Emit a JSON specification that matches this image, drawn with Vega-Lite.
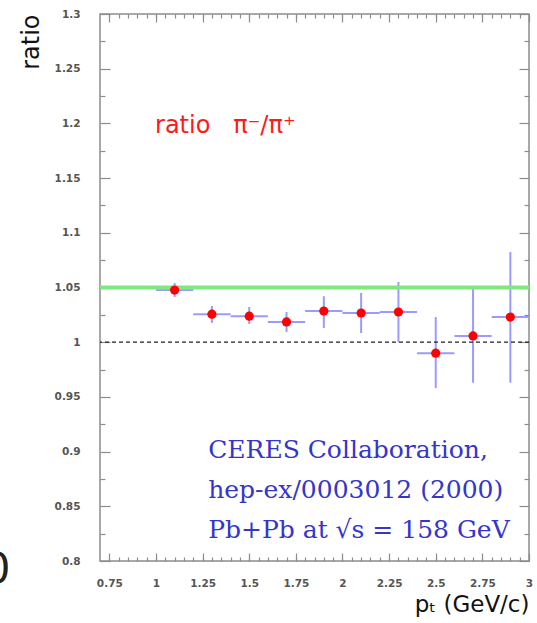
{
  "$schema": "https://vega.github.io/schema/vega-lite/v6.json",
  "width": 429,
  "height": 547,
  "autosize": "none",
  "padding": {"left": 100, "top": 14, "right": 8, "bottom": 62},
  "background": "white",
  "config": {
    "view": {"stroke": "#8c8c8c", "strokeWidth": 1.5},
    "axis": {
      "domain": false,
      "grid": false,
      "tickColor": "#8c8c8c",
      "tickWidth": 1.2,
      "labelColor": "#555555",
      "labelFont": "DejaVu Sans",
      "labelFontSize": 10.5,
      "labelFontWeight": "bold",
      "titleFont": "DejaVu Sans",
      "titleFontWeight": "normal",
      "titleColor": "#111111"
    }
  },
  "datasets": {
    "pts": [
      {"x": 1.1, "y": 1.0477, "xlo": 1.0, "xhi": 1.2, "ylo": 1.0413, "yhi": 1.0541},
      {"x": 1.3, "y": 1.0256, "xlo": 1.2, "xhi": 1.4, "ylo": 1.0176, "yhi": 1.0331},
      {"x": 1.5, "y": 1.0238, "xlo": 1.4, "xhi": 1.6, "ylo": 1.0166, "yhi": 1.0322},
      {"x": 1.7, "y": 1.0185, "xlo": 1.6, "xhi": 1.8, "ylo": 1.0093, "yhi": 1.0276},
      {"x": 1.9, "y": 1.0285, "xlo": 1.8, "xhi": 2.0, "ylo": 1.013, "yhi": 1.042},
      {"x": 2.1, "y": 1.0267, "xlo": 2.0, "xhi": 2.2, "ylo": 1.0084, "yhi": 1.045},
      {"x": 2.3, "y": 1.0276, "xlo": 2.2, "xhi": 2.4, "ylo": 1.0, "yhi": 1.055},
      {"x": 2.5, "y": 0.99, "xlo": 2.4, "xhi": 2.6, "ylo": 0.958, "yhi": 1.023},
      {"x": 2.7, "y": 1.0057, "xlo": 2.6, "xhi": 2.8, "ylo": 0.963, "yhi": 1.0495},
      {"x": 2.9, "y": 1.023, "xlo": 2.8, "xhi": 3.0, "ylo": 0.963, "yhi": 1.0825}
    ],
    "notes": [
      {"x": 1.28, "y": 0.8942, "t": "CERES Collaboration,"},
      {"x": 1.28, "y": 0.8576, "t": "hep-ex/0003012 (2000)"},
      {"x": 1.28, "y": 0.821, "t": "Pb+Pb at √s = 158 GeV"}
    ]
  },
  "resolve": {"axis": {"x": "independent", "y": "independent"}},
  "layer": [
    {
      "data": {"name": "pts"},
      "mark": {"type": "rule", "color": "#9a9aff", "strokeWidth": 2},
      "encoding": {
        "x": {"field": "xlo", "type": "quantitative",
          "scale": {"domain": [0.7, 3.0], "nice": false, "zero": false},
          "axis": {"orient": "bottom", "values": [0.75, 1, 1.25, 1.5, 1.75, 2, 2.25, 2.5, 2.75, 3],
            "labelExpr": "'' + datum.value", "tickSize": -8, "labelPadding": 25, "labelFlush": false,
            "title": "pₜ (GeV/c)", "titleFontSize": 23, "titleAnchor": "end", "titleAlign": "right",
            "titleBaseline": "alphabetic", "titleX": 429, "titleY": 50}},
        "x2": {"field": "xhi"},
        "y": {"field": "y", "type": "quantitative",
          "scale": {"domain": [0.8, 1.3], "nice": false, "zero": false},
          "axis": {"orient": "left", "values": [0.8, 0.85, 0.9, 0.95, 1, 1.05, 1.1, 1.15, 1.2, 1.25, 1.3],
            "labelExpr": "'' + datum.value", "tickSize": -10, "labelPadding": 30, "labelFlush": false,
            "title": "ratio", "titleFontSize": 24, "titleAngle": -90, "titleAlign": "right",
            "titleBaseline": "top", "titleX": -81, "titleY": 0}}
      }
    },
    {
      "data": {"name": "pts"},
      "mark": {"type": "rule", "color": "#9a9aff", "strokeWidth": 2},
      "encoding": {
        "x": {"field": "x", "type": "quantitative",
          "scale": {"domain": [0.7, 3.0], "nice": false, "zero": false},
          "axis": {"orient": "bottom", "values": [0.75, 0.8, 0.85, 0.9, 0.95, 1, 1.05, 1.1, 1.15, 1.2, 1.25, 1.3, 1.35, 1.4, 1.45, 1.5, 1.55, 1.6, 1.65, 1.7, 1.75, 1.8, 1.85, 1.9, 1.95, 2, 2.05, 2.1, 2.15, 2.2, 2.25, 2.3, 2.35, 2.4, 2.45, 2.5, 2.55, 2.6, 2.65, 2.7, 2.75, 2.8, 2.85, 2.9, 2.95],
            "tickSize": -4, "labels": false, "title": null}},
        "y": {"field": "ylo", "type": "quantitative",
          "scale": {"domain": [0.8, 1.3], "nice": false, "zero": false},
          "axis": {"orient": "left", "values": [0.825, 0.875, 0.925, 0.975, 1.025, 1.075, 1.125, 1.175, 1.225, 1.275],
            "tickSize": -5, "labels": false, "title": null}},
        "y2": {"field": "yhi"}
      }
    },
    {
      "data": {"values": [{"v": 1.05}]},
      "mark": {"type": "rule", "color": "#7fe87f", "strokeWidth": 4},
      "encoding": {
        "y": {"field": "v", "type": "quantitative",
          "scale": {"domain": [0.8, 1.3], "nice": false, "zero": false},
          "axis": {"orient": "right", "values": [0.8, 0.85, 0.9, 0.95, 1, 1.05, 1.1, 1.15, 1.2, 1.25, 1.3],
            "tickSize": -10, "labels": false, "title": null}}
      }
    },
    {
      "data": {"values": [{"v": 1.0}]},
      "mark": {"type": "rule", "color": "#222222", "strokeWidth": 1.3, "strokeDash": [4, 3]},
      "encoding": {
        "y": {"field": "v", "type": "quantitative",
          "scale": {"domain": [0.8, 1.3], "nice": false, "zero": false},
          "axis": {"orient": "right", "values": [0.825, 0.875, 0.925, 0.975, 1.025, 1.075, 1.125, 1.175, 1.225, 1.275],
            "tickSize": -5, "labels": false, "title": null}}
      }
    },
    {
      "data": {"name": "pts"},
      "mark": {"type": "point", "filled": true, "color": "#ff0000", "size": 85, "opacity": 1},
      "encoding": {
        "x": {"field": "x", "type": "quantitative",
          "scale": {"domain": [0.7, 3.0], "nice": false, "zero": false},
          "axis": {"orient": "top", "values": [0.75, 1, 1.25, 1.5, 1.75, 2, 2.25, 2.5, 2.75, 3],
            "tickSize": -8, "labels": false, "title": null}},
        "y": {"field": "y", "type": "quantitative",
          "scale": {"domain": [0.8, 1.3], "nice": false, "zero": false}, "axis": null}
      }
    },
    {
      "data": {"name": "notes"},
      "mark": {"type": "text", "align": "left", "baseline": "alphabetic", "font": "DejaVu Serif", "fontSize": 25, "color": "#3535cc"},
      "encoding": {
        "x": {"field": "x", "type": "quantitative",
          "scale": {"domain": [0.7, 3.0], "nice": false, "zero": false},
          "axis": {"orient": "top", "values": [0.75, 0.8, 0.85, 0.9, 0.95, 1, 1.05, 1.1, 1.15, 1.2, 1.25, 1.3, 1.35, 1.4, 1.45, 1.5, 1.55, 1.6, 1.65, 1.7, 1.75, 1.8, 1.85, 1.9, 1.95, 2, 2.05, 2.1, 2.15, 2.2, 2.25, 2.3, 2.35, 2.4, 2.45, 2.5, 2.55, 2.6, 2.65, 2.7, 2.75, 2.8, 2.85, 2.9, 2.95],
            "tickSize": -4, "labels": false, "title": null}},
        "y": {"field": "y", "type": "quantitative",
          "scale": {"domain": [0.8, 1.3], "nice": false, "zero": false}, "axis": null},
        "text": {"field": "t"}
      }
    },
    {
      "data": {"values": [{"x": 0.995, "y": 1.191, "t": "ratio\u00a0\u00a0\u00a0π⁻/π⁺"}]},
      "mark": {"type": "text", "align": "left", "baseline": "alphabetic", "font": "DejaVu Sans", "fontSize": 24, "color": "#ff1a1a"},
      "encoding": {
        "x": {"field": "x", "type": "quantitative",
          "scale": {"domain": [0.7, 3.0], "nice": false, "zero": false}, "axis": null},
        "y": {"field": "y", "type": "quantitative",
          "scale": {"domain": [0.8, 1.3], "nice": false, "zero": false}, "axis": null},
        "text": {"field": "t"}
      }
    },
    {
      "data": {"values": [{"x": 0.22, "y": 0.78, "t": "0"}]},
      "mark": {"type": "text", "align": "right", "baseline": "alphabetic", "font": "DejaVu Sans", "fontSize": 42, "color": "#222222"},
      "encoding": {
        "x": {"field": "x", "type": "quantitative",
          "scale": {"domain": [0.7, 3.0], "nice": false, "zero": false}, "axis": null},
        "y": {"field": "y", "type": "quantitative",
          "scale": {"domain": [0.8, 1.3], "nice": false, "zero": false}, "axis": null},
        "text": {"field": "t"}
      }
    }
  ]
}
